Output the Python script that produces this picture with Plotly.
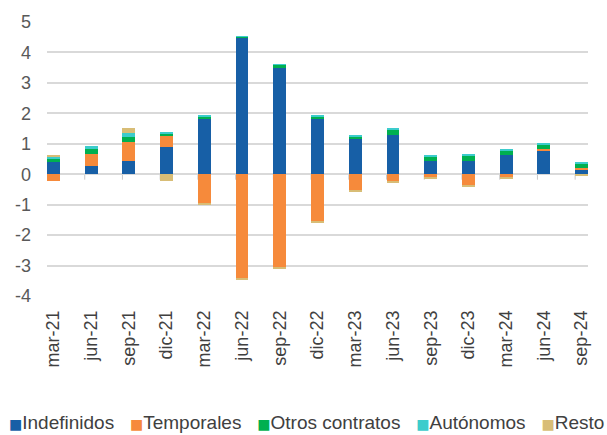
import plotly.graph_objects as go

categories = ["mar-21", "jun-21", "sep-21", "dic-21", "mar-22", "jun-22", "sep-22", "dic-22",
              "mar-23", "jun-23", "sep-23", "dic-23", "mar-24", "jun-24", "sep-24"]

indefinidos = [0.39, 0.27, 0.43, 0.88, 1.80, 4.48, 3.50, 1.81, 1.16, 1.29, 0.44, 0.44, 0.62, 0.79, 0.17]
temporales = [-0.23, 0.38, 0.62, 0.40, -0.97, -3.43, -3.08, -1.54, -0.53, -0.23, -0.12, -0.37, -0.12, 0.04, 0.04]
otros_contratos = [0.10, 0.18, 0.17, 0.06, 0.09, 0.05, 0.09, 0.10, 0.09, 0.18, 0.15, 0.19, 0.17, 0.13, 0.13]
autonomos = [0.09, 0.09, 0.13, 0.04, 0.04, 0.01, 0.02, 0.03, 0.02, 0.04, 0.04, 0.04, 0.04, 0.04, 0.04]
resto = [0.04, 0.00, 0.18, -0.23, -0.03, -0.03, -0.03, -0.07, -0.03, -0.03, -0.02, -0.03, -0.02, 0.00, -0.07]

series_names = ["Indefinidos", "Temporales", "Otros contratos", "Autónomos", "Resto"]
series_values = [indefinidos, temporales, otros_contratos, autonomos, resto]
series_colors = ["#175fa6", "#f68a3b", "#00b050", "#3ccccc", "#d8bd76"]

y_ticks = [-4, -3, -2, -1, 0, 1, 2, 3, 4, 5]

FONT = "Liberation Sans, Arial, sans-serif"
BAR_W = 0.34

fig = go.Figure()
for name, vals, col in zip(series_names, series_values, series_colors):
    fig.add_trace(go.Bar(
        x=categories, y=vals, name=name, width=BAR_W,
        marker=dict(color=col, line=dict(width=0)),
        showlegend=False,
    ))

# small category tick marks on the zero line (at bar left edges)
for k in range(1, len(categories)):
    fig.add_shape(type="line", xref="x", yref="y",
                  x0=k - BAR_W / 2, x1=k - BAR_W / 2, y0=0, y1=-0.18,
                  line=dict(color="#c8c8c8", width=1), layer="below")

# legend built as real text
parts = []
for name, col in zip(series_names, series_colors):
    parts.append(f"<span style='color:{col};font-family:DejaVu Sans;font-size:14px'>■</span>{name}")
legend_text = "\u00a0\u00a0\u00a0".join(parts)
fig.add_annotation(text=legend_text, xref="paper", yref="paper",
                   x=0.48, y=-0.46, xanchor="center", yanchor="middle",
                   showarrow=False, font=dict(family=FONT, size=19, color="#404040"))

fig.update_layout(
    width=607, height=435,
    margin=dict(l=47, r=19, t=22, b=139),
    barmode="relative",
    bargap=0,
    plot_bgcolor="white", paper_bgcolor="white",
    font=dict(family=FONT, size=18, color="#595959"),
    xaxis=dict(
        type="category",
        range=[-0.17, len(categories) - 1 + 0.17],
        tickangle=-90,
        ticks="",
        ticklabelstandoff=10,
        tickfont=dict(family=FONT, size=18, color="#404040"),
        showgrid=False, zeroline=False, showline=False,
    ),
    yaxis=dict(
        range=[-4, 5],
        tickvals=y_ticks,
        ticktext=[str(v) for v in y_ticks],
        ticks="",
        ticklabelstandoff=15,
        tickfont=dict(family=FONT, size=18, color="#595959"),
        showgrid=True, gridcolor="#d9d9d9", gridwidth=1.5,
        zeroline=True, zerolinecolor="#d9d9d9", zerolinewidth=1.5,
        showline=False,
    ),
)

fig.write_html("out.html", config={"displayModeBar": False},
               post_script="document.body.style.margin='0px';")
